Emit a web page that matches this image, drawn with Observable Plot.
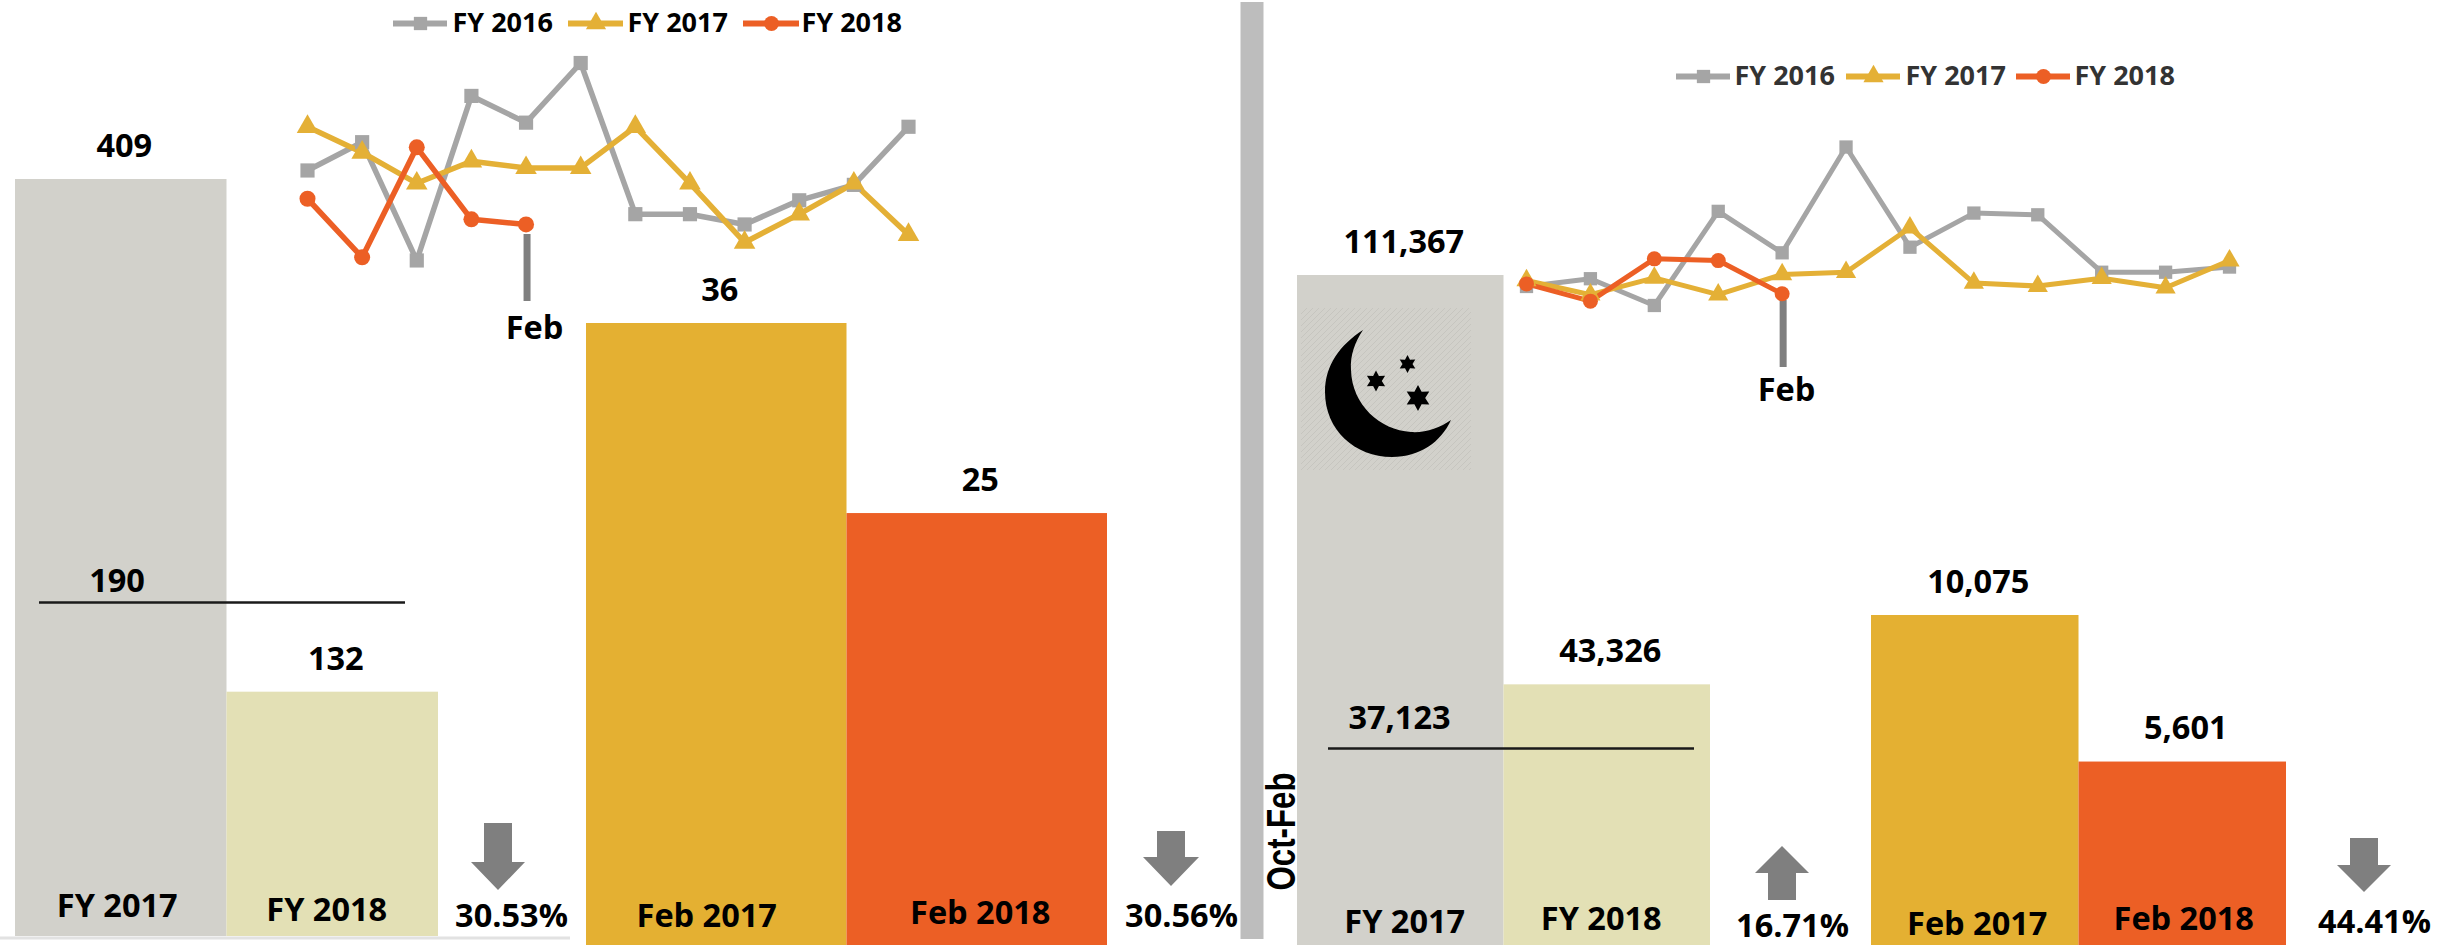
<!DOCTYPE html>
<html>
<head>
<meta charset="utf-8">
<script src="https://cdn.jsdelivr.net/npm/d3@7"></script>
<script src="https://cdn.jsdelivr.net/npm/@observablehq/plot@0.6"></script>
<style>
html,body{margin:0;padding:0;background:#fff;overflow:hidden}
#page{position:relative;width:2445px;height:945px;overflow:hidden;background:#fff}
#page svg{position:absolute;left:0;top:0}
</style>
</head>
<body>
<div id="page"></div>
<script>
// ---- data ----
const months = ["Oct","Nov","Dec","Jan","Feb","Mar","Apr","May","Jun","Jul","Aug","Sep"];
const seriesNames = ["FY 2016","FY 2017","FY 2018"];
// left panel, monthly
const leftFY2016 = [35.5,41,18,50,44.8,56.4,27,27,25,29.7,32.7,44];
const leftFY2017 = [44,39,33,37.3,36,36,44,33,21.5,27,33,23];
const leftFY2018 = [30,18.6,40,26,25];
// right panel, monthly
const rightFY2016 = [7300,9100,2900,24700,15100,39600,16400,24300,23900,10600,10600,11800];
const rightFY2017 = [8700,5400,9300,5400,10075,10600,20900,8100,7400,9200,7000,13300];
const rightFY2018 = [7900,3900,13700,13300,5601];
// bars
const fyCategories = ["FY 2017","FY 2018"];
const febCategories = ["Feb 2017","Feb 2018"];
const leftFYValues = [409,132];
const leftFebValues = [36,25];
const rightFYValues = [111367,43326];
const rightFebValues = [10075,5601];
const leftMarkerLabel = "190";
const leftMarkerLevel = 180.4;
const rightMarkerLabel = "37,123";
const rightMarkerLevel = 32745;
const changeLabels = ["30.53%","30.56%","16.71%","44.41%"];

// ---- styles ----
const FONT = "'Open Sans'";
const seriesColors = ["#A5A5A5","#E4B036","#EC5F25"];
const seriesSymbols = ["square","triangle","circle"];
const fyColors = ["#D2D1CB","#E3E0B5"];
const febColors = ["#E4B032","#EC5F25"];
const W = 2445, H = 945;
const page = document.getElementById("page");
const base = {width:W,height:H,marginTop:0,marginRight:0,marginBottom:0,marginLeft:0,
  style:{background:"transparent",overflow:"visible"}};
const textStyle = {fontFamily:FONT,fontWeight:700,fontSize:32.5,fill:"#000"};

function barPanel({cats,vals,colors,xRange,yRange,yMax,labels,extra=[]}) {
  const rows = cats.map((c,i)=>({cat:c,value:vals[i]}));
  const fmt = d3.format(",");
  page.appendChild(Plot.plot({...base,
    x:{domain:cats,range:xRange,padding:0,round:false,axis:null},
    y:{domain:[0,yMax],range:yRange,axis:null},
    color:{domain:cats,range:colors},
    marks:[
      Plot.barY(rows,{x:"cat",y:"value",fill:"cat"}),
      Plot.text(rows,{x:"cat",y:"value",text:d=>fmt(d.value),dx:3,dy:-33,...textStyle}),
      ...cats.map((c,i)=>Plot.text([c],{x:d=>d,frameAnchor:"top",lineAnchor:"middle",
        dx:labels[i][0],dy:labels[i][1],...textStyle})),
      ...extra
    ]}));
}

function linePanel({s16,s17,s18,xRange,yDomain,yRange,tickTop,tickBottom,lw,rs}) {
  const rows=[];
  [s16,s17,s18].forEach((arr,k)=>arr.forEach((v,i)=>rows.push({series:seriesNames[k],month:months[i],value:v})));
  page.appendChild(Plot.plot({...base,
    x:{type:"point",domain:months,range:xRange,padding:0,round:false,axis:null},
    y:{domain:yDomain,range:yRange,axis:null},
    color:{domain:seriesNames,range:seriesColors},
    symbol:{domain:seriesNames,range:seriesSymbols},
    marks:[
      Plot.ruleX(["Feb"],{x:d=>d,stroke:"#7F7F7F",strokeWidth:7,insetTop:tickTop,insetBottom:H-tickBottom,dx:1}),
      Plot.line(rows,{x:"month",y:"value",stroke:"series",strokeWidth:lw,curve:"linear",strokeLinejoin:"round"}),
      Plot.dot(rows,{x:"month",y:"value",fill:"series",symbol:"series",r:rs,stroke:null})
    ]}));
}

// ---- decorative shapes (function marks) ----
function blockArrow(cx,top,headAt,tip,halfShaft,halfHead){
  return `M${cx-halfShaft},${top}L${cx+halfShaft},${top}L${cx+halfShaft},${headAt}L${cx+halfHead},${headAt}L${cx},${tip}L${cx-halfHead},${headAt}L${cx-halfShaft},${headAt}Z`;
}
function star(cx,cy,r){
  let p="";
  for(let i=0;i<12;i++){
    const a=-Math.PI/2+i*Math.PI/6, q=i%2?r*0.55:r;
    p+=(i?"L":"M")+(cx+q*Math.cos(a)).toFixed(1)+","+(cy+q*Math.sin(a)).toFixed(1);
  }
  return p+"Z";
}
const arrowPaths=[
  blockArrow(498,823,862,890,14,27),
  blockArrow(1171,831,857,886,14,28),
  blockArrow(1782,900,873,846,14,27),
  blockArrow(2364,838,865,892,14,27)
];
const moonPath="M1363,330C1340,345 1325,365 1325,392C1325,430 1355,457 1392,457C1420,457 1441,442 1451,420C1440,428 1425,433 1411,432C1380,430 1352,405 1351,370C1350,355 1355,342 1363,330Z";
function shapes(){
  const g=d3.create("svg:g");
  const hatch=g.append("g").attr("stroke","#C6C5BF").attr("stroke-width",1);
  for(let k=1301;k<1471+162;k+=6){
    const x1=Math.min(k,1471), y1=308+(k-x1);
    const x2=Math.max(k-162,1301), y2=308+(k-x2);
    hatch.append("line").attr("x1",x1).attr("y1",y1).attr("x2",x2).attr("y2",y2);
  }
  arrowPaths.forEach(d=>g.append("path").attr("d",d).attr("fill","#7F7F7F"));
  g.append("path").attr("d",moonPath).attr("fill","#000");
  [[1407.5,364,9],[1376,381,10.5],[1418,398,13]].forEach(([x,y,r])=>g.append("path").attr("d",star(x,y,r)).attr("fill","#000"));
  return g.node();
}

// ---- background furniture ----
const legendLayouts=[
  {lines:[[393,447],[568,623],[743,799]],textX:[452,627,801],y:23,textFill:"#000"},
  {lines:[[1676,1730],[1846,1900],[2016,2070]],textX:[1734,1905,2074],y:76,textFill:"#333"}
];
const legendLines=legendLayouts.flatMap(l=>seriesNames.map((s,i)=>({series:s,x1:l.lines[i][0],x2:l.lines[i][1],y:l.y})));
const legendTexts=legendLayouts.flatMap(l=>seriesNames.map((s,i)=>({series:s,x:l.textX[i],y:l.y,fill:l.textFill})));
const changePos=[[511,916],[1181,916],[1792,926],[2374,922]];

page.appendChild(Plot.plot({...base,
  x:{type:"identity",axis:null},y:{type:"identity",axis:null},
  marks:[
    Plot.ruleX([1251.5],{y1:2,y2:939,stroke:"#BDBDBD",strokeWidth:23}),
    Plot.ruleY([937.5],{x1:0,x2:570,stroke:"#E2E2E2",strokeWidth:3})
  ]}));

// ---- bars ----
barPanel({cats:fyCategories,vals:leftFYValues,colors:fyColors,xRange:[15,438],yRange:[936,179],yMax:409,
  labels:[[-4,906],[-6,910]],
  extra:[
    Plot.ruleY([leftMarkerLevel],{stroke:"#1a1a1a",strokeWidth:2.5,insetLeft:39,insetRight:W-405}),
    Plot.text([leftMarkerLabel],{frameAnchor:"top-left",textAnchor:"middle",lineAnchor:"middle",dx:116.5,dy:581,...textStyle})
  ]});
barPanel({cats:febCategories,vals:leftFebValues,colors:febColors,xRange:[586,1107],yRange:[945,323],yMax:36,
  labels:[[-10,916],[3,913]]});
barPanel({cats:fyCategories,vals:rightFYValues,colors:fyColors,xRange:[1297,1710],yRange:[945,275],yMax:111367,
  labels:[[4,922],[-6,919]],
  extra:[
    Plot.ruleY([rightMarkerLevel],{stroke:"#1a1a1a",strokeWidth:2.5,insetLeft:1328,insetRight:W-1694}),
    Plot.text([rightMarkerLabel],{frameAnchor:"top-left",textAnchor:"middle",lineAnchor:"middle",dx:1399,dy:718,...textStyle})
  ]});
barPanel({cats:febCategories,vals:rightFebValues,colors:febColors,xRange:[1871,2286],yRange:[945,615],yMax:10075,
  labels:[[2,924],[1,919]]});

// ---- monthly lines ----
linePanel({s16:leftFY2016,s17:leftFY2017,s18:leftFY2018,xRange:[307,908],yDomain:[0,60],yRange:[352.5,44],
  tickTop:234,tickBottom:301,lw:5.5,rs:8});
linePanel({s16:rightFY2016,s17:rightFY2017,s18:rightFY2018,xRange:[1526,2229],yDomain:[0,40000],yRange:[317.5,144.8],
  tickTop:300,tickBottom:367,lw:5,rs:7.5});

// ---- annotations ----
const annot=Plot.plot({...base,
  x:{type:"identity",axis:null},y:{type:"identity",axis:null},
  color:{domain:seriesNames,range:seriesColors},
  symbol:{domain:seriesNames,range:seriesSymbols},
  marks:[
    shapes,
    Plot.ruleY(legendLines,{y:"y",x1:"x1",x2:"x2",stroke:"series",strokeWidth:6}),
    Plot.dot(legendLines,{x:d=>(d.x1+d.x2)/2,y:"y",fill:"series",symbol:"series",r:7.5,stroke:null}),
    Plot.text(legendTexts,{x:"x",y:"y",text:"series",textAnchor:"start",fontFamily:FONT,fontWeight:700,fontSize:27,fill:"fill"}),
    Plot.text(changeLabels,{x:(d,i)=>changePos[i][0],y:(d,i)=>changePos[i][1],text:d=>d,...textStyle}),
    Plot.text(["Feb"],{x:534,y:328,text:d=>d,...textStyle}),
    Plot.text(["Feb"],{x:1786,y:390,text:d=>d,...textStyle}),
    Plot.text(["Oct-Feb"],{x:1282,y:831,text:d=>d,rotate:-90,fontFamily:"'Liberation Sans'",fontWeight:700,fontSize:40,fill:"#000"})
  ]});
page.appendChild(annot);
d3.select(annot).selectAll("text").filter(function(){return this.textContent==="Oct-Feb";})
  .attr("textLength",118).attr("lengthAdjust","spacingAndGlyphs");
</script>
</body>
</html>
